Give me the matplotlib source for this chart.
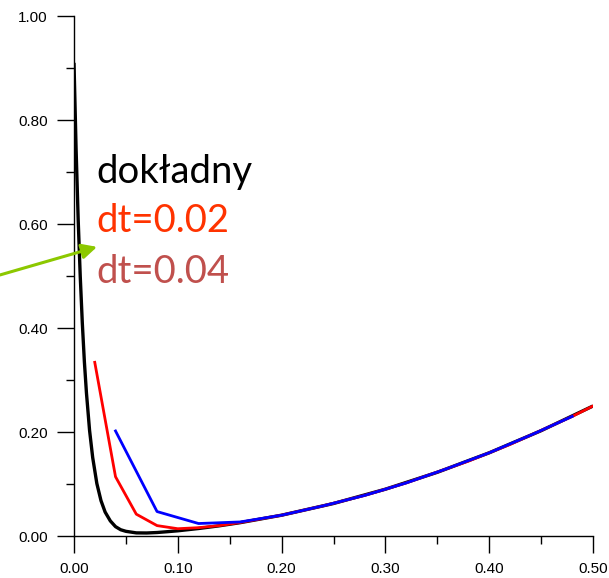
"""
Exact solution vs. explicit scheme with two time steps (dt=0.02, dt=0.04).

Writes out.png (609x578).
"""

import matplotlib

matplotlib.use("Agg")
import matplotlib.pyplot as plt

# --- data ------------------------------------------------------------------
# exact solution ("dokładny")
x_exact = [0.000, 0.002, 0.004, 0.006, 0.008, 0.010, 0.012, 0.015, 0.018,
           0.022, 0.026, 0.030, 0.035, 0.040, 0.045, 0.050, 0.060, 0.070,
           0.080, 0.090, 0.100, 0.120, 0.140, 0.160, 0.200, 0.250, 0.300,
           0.350, 0.400, 0.450, 0.500]
y_exact = [0.910, 0.745, 0.610, 0.500, 0.410, 0.335, 0.275, 0.203, 0.151,
           0.101, 0.068, 0.046, 0.029, 0.018, 0.012, 0.009, 0.006, 0.0058,
           0.0067, 0.0083, 0.0100, 0.0144, 0.0196, 0.0256, 0.040, 0.0625, 0.090,
           0.1225, 0.160, 0.2025, 0.250]

# dt = 0.02
x_dt02 = [0.02, 0.04, 0.06, 0.08, 0.10, 0.12, 0.14, 0.16, 0.18, 0.20, 0.22,
          0.24, 0.26, 0.28, 0.30, 0.32, 0.34, 0.36, 0.38, 0.40, 0.42, 0.44,
          0.46, 0.48, 0.50]
y_dt02 = [0.334, 0.114, 0.042, 0.020, 0.014, 0.016, 0.020, 0.026, 0.033,
          0.040, 0.049, 0.058, 0.068, 0.078, 0.090, 0.102, 0.116, 0.130,
          0.144, 0.160, 0.176, 0.194, 0.212, 0.230, 0.250]

# dt = 0.04
x_dt04 = [0.04, 0.08, 0.12, 0.16, 0.20, 0.24, 0.28, 0.32, 0.36, 0.40, 0.44, 0.48]
y_dt04 = [0.202, 0.047, 0.024, 0.027, 0.040, 0.058, 0.078, 0.102, 0.130,
          0.160, 0.194, 0.230]

labels = ["dokładny", "dt=0.02", "dt=0.04"]
label_colors = ["black", "#ff3300", "#c0504d"]

W, H = 609, 578
DPI = 100


def main() -> None:
    plt.rcParams["font.family"] = ["Liberation Sans", "DejaVu Sans"]

    fig = plt.figure(figsize=(W / DPI, H / DPI), dpi=DPI)
    ax = fig.add_axes([74 / W, 42 / H, 519 / W, 520 / H])

    ax.plot(x_exact, y_exact, color="black", lw=2.4, zorder=2, solid_capstyle="butt")
    ax.plot(x_dt02, y_dt02, color="#ff0000", lw=2.0, zorder=3)
    ax.plot(x_dt04, y_dt04, color="#0000ff", lw=2.0, zorder=4)

    ax.set_xlim(0, 0.5)
    ax.set_ylim(0, 1.0)

    for side in ("top", "right"):
        ax.spines[side].set_visible(False)
    for side in ("left", "bottom"):
        ax.spines[side].set_linewidth(1.0)

    ax.set_xticks([0.0, 0.1, 0.2, 0.3, 0.4, 0.5])
    ax.set_xticks([0.05, 0.15, 0.25, 0.35, 0.45], minor=True)
    ax.set_yticks([0.0, 0.2, 0.4, 0.6, 0.8, 1.0])
    ax.set_yticks([0.1, 0.3, 0.5, 0.7, 0.9], minor=True)
    ax.set_xticklabels([f"{v:.2f}" for v in ax.get_xticks()])
    ax.set_yticklabels([f"{v:.2f}" for v in ax.get_yticks()])
    ax.tick_params(which="major", direction="out", length=12, width=1.0,
                   labelsize=11, pad=7)
    ax.tick_params(which="minor", direction="out", length=5.5, width=1.0)

    # text legend
    for lab, col, yb in zip(labels, label_colors, [0.679, 0.585, 0.487]):
        ax.text(0.022, yb, lab, color=col, fontsize=27.5, va="baseline",
                ha="left", family=["Lato", "DejaVu Sans"])

    # green arrow coming in from the left margin
    ax.annotate("", xy=(0.0222, 0.556), xytext=(-0.0713, 0.502),
                xycoords="data", textcoords="data", annotation_clip=False,
                arrowprops=dict(arrowstyle="-|>,head_length=0.9,head_width=0.45",
                                color="#8cc800", lw=2.2, shrinkA=0, shrinkB=0))

    fig.savefig("out.png", dpi=DPI)
    plt.close(fig)


if __name__ == "__main__":
    main()
